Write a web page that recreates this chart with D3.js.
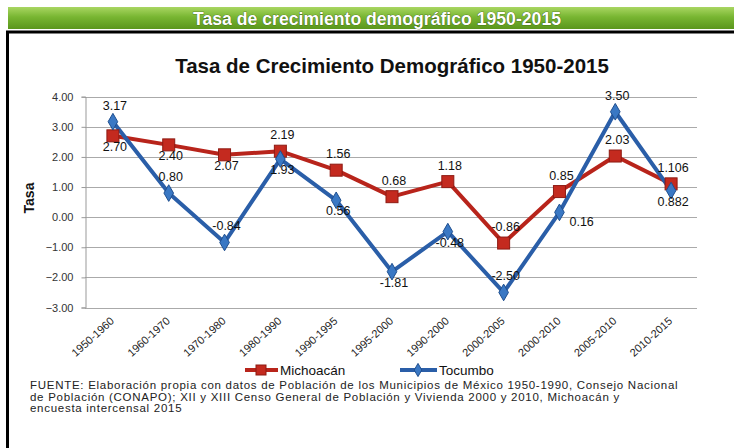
<!DOCTYPE html>
<html>
<head>
<meta charset="utf-8">
<script src="https://cdn.jsdelivr.net/npm/d3@7"></script>
<style>
  body { margin: 0; background: #fff; }
  svg { display: block; font-family: "Liberation Sans", Arial, sans-serif; }
</style>
</head>
<body>
<div id="chart"></div>
<script>
// Data
var periods = ["1950-1960", "1960-1970", "1970-1980", "1980-1990", "1990-1995", "1995-2000",
               "1990-2000", "2000-2005", "2000-2010", "2005-2010", "2010-2015"];
var michoacan = [2.70, 2.40, 2.07, 2.19, 1.56, 0.68, 1.18, -0.86, 0.85, 2.03, 1.106];
var tocumbo = [3.17, 0.80, -0.84, 1.93, 0.56, -1.81, -0.48, -2.50, 0.16, 3.50, 0.882];
var michoacanLabels = ["2.70", "2.40", "2.07", "2.19", "1.56", "0.68", "1.18", "-0.86", "0.85", "2.03", "1.106"];
var tocumboLabels = ["3.17", "0.80", "-0.84", "1.93", "0.56", "-1.81", "-0.48", "-2.50", "0.16", "3.50", "0.882"];
// where each data label sits relative to its point
var michoacanPlace = ["below", "below", "below", "above", "above", "above", "above", "above", "above", "above", "above"];
var tocumboPlace = ["above", "above", "above", "below", "below", "below", "below", "above", "right", "above", "below"];
var yTicks = [-3, -2, -1, 0, 1, 2, 3, 4];

var width = 734, height = 448;
var svg = d3.select("#chart").append("svg")
    .attr("width", width)
    .attr("height", height);

var defs = svg.append("defs");
var grad = defs.append("linearGradient")
    .attr("id", "banner").attr("x1", 0).attr("y1", 0).attr("x2", 0).attr("y2", 1);
grad.append("stop").attr("offset", "0%").attr("stop-color", "#a9d662");
grad.append("stop").attr("offset", "45%").attr("stop-color", "#78b632");
grad.append("stop").attr("offset", "100%").attr("stop-color", "#5a961c");

// green banner on top
svg.append("rect")
    .attr("x", 8).attr("y", 7)
    .attr("width", width - 8).attr("height", 22)
    .attr("fill", "url(#banner)");

svg.append("text")
    .attr("x", 377).attr("y", 25)
    .attr("text-anchor", "middle")
    .attr("font-family", "'Liberation Sans Narrow', 'Liberation Sans', sans-serif")
    .attr("font-weight", "bold")
    .attr("font-size", 18)
    .attr("fill", "#fff")
    .attr("stroke", "#2d4a10")
    .attr("stroke-width", 0.6)
    .attr("paint-order", "stroke")
    .attr("textLength", 368)
    .attr("lengthAdjust", "spacingAndGlyphs")
    .text("Tasa de crecimiento demográfico 1950-2015");

// black frame
svg.append("line")
    .attr("x1", 6).attr("x2", width).attr("y1", 32).attr("y2", 32)
    .attr("stroke", "#000").attr("stroke-width", 3);
svg.append("line")
    .attr("x1", 7.5).attr("x2", 7.5).attr("y1", 31).attr("y2", height)
    .attr("stroke", "#000").attr("stroke-width", 3);

// chart title
svg.append("text")
    .attr("x", 392).attr("y", 73)
    .attr("text-anchor", "middle")
    .attr("font-weight", "bold")
    .attr("font-size", 20.5)
    .attr("fill", "#111")
    .text("Tasa de Crecimiento Demográfico 1950-2015");

// Scales
var x = d3.scaleBand()
    .domain(periods)
    .range([85, 699]);

var y = d3.scaleLinear()
    .domain([-3, 4])
    .range([307.5, 96.7]);

function cx(i) { return x(periods[i]) + x.bandwidth() / 2; }

// grid lines
svg.append("g")
    .selectAll("line")
    .data(yTicks)
    .enter().append("line")
    .attr("x1", 85).attr("x2", 697)
    .attr("y1", function(d) { return Math.round(y(d)) + 0.5; })
    .attr("y2", function(d) { return Math.round(y(d)) + 0.5; })
    .attr("stroke", "#aaa")
    .attr("stroke-width", 1);

// Y axis
var yAxis = svg.append("g")
    .attr("transform", "translate(85.5,0)")
    .call(d3.axisLeft(y).tickValues(yTicks).tickFormat(d3.format(".2f")).tickSize(4).tickPadding(8));
yAxis.select(".domain").attr("stroke", "#999");
yAxis.selectAll(".tick line").attr("stroke", "#999");
yAxis.selectAll(".tick text")
    .attr("font-size", 11)
    .attr("font-family", "'Liberation Sans', Arial, sans-serif")
    .attr("fill", "#333");

svg.append("text")
    .attr("transform", "translate(34,198) rotate(-90)")
    .attr("text-anchor", "middle")
    .attr("font-weight", "bold")
    .attr("font-size", 14)
    .attr("fill", "#111")
    .text("Tasa");

// X labels
svg.append("g")
    .selectAll("text")
    .data(periods)
    .enter().append("text")
    .attr("transform", function(d, i) { return "translate(" + (cx(i) + 2) + ",322) rotate(-42)"; })
    .attr("text-anchor", "end")
    .attr("font-size", 11)
    .attr("fill", "#222")
    .text(function(d) { return d; });

// Lines
var line = d3.line()
    .x(function(d, i) { return cx(i); })
    .y(function(d) { return y(d); });

svg.append("path")
    .datum(michoacan)
    .attr("fill", "none")
    .attr("stroke", "#b8241b")
    .attr("stroke-width", 4)
    .attr("stroke-linejoin", "round")
    .attr("d", line);

svg.append("path")
    .datum(tocumbo)
    .attr("fill", "none")
    .attr("stroke", "#2a5ea8")
    .attr("stroke-width", 4)
    .attr("stroke-linejoin", "round")
    .attr("d", line);

// markers
svg.append("g")
    .selectAll("rect")
    .data(michoacan)
    .enter().append("rect")
    .attr("x", function(d, i) { return cx(i) - 6; })
    .attr("y", function(d) { return y(d) - 6; })
    .attr("width", 12).attr("height", 12)
    .attr("fill", "#c42a1f")
    .attr("stroke", "#8e1a12")
    .attr("stroke-width", 1);

var diamond = d3.symbol().type(d3.symbolDiamond).size(80);
svg.append("g")
    .selectAll("path")
    .data(tocumbo)
    .enter().append("path")
    .attr("transform", function(d, i) { return "translate(" + cx(i) + "," + y(d) + ")"; })
    .attr("d", diamond)
    .attr("fill", "#3a78c4")
    .attr("stroke", "#1f4f8f")
    .attr("stroke-width", 1);

// data labels
function placeLabels(values, labels, place) {
    svg.append("g")
        .selectAll("text")
        .data(values)
        .enter().append("text")
        .attr("x", function(d, i) { return place[i] === "right" ? cx(i) + 10 : cx(i) + 2; })
        .attr("y", function(d, i) {
            if (place[i] === "above") return y(d) - 12;
            if (place[i] === "below") return y(d) + 15;
            return y(d) + 14;
        })
        .attr("text-anchor", function(d, i) { return place[i] === "right" ? "start" : "middle"; })
        .attr("font-size", 12.5)
        .attr("fill", "#111")
        .text(function(d, i) { return labels[i]; });
}
placeLabels(michoacan, michoacanLabels, michoacanPlace);
placeLabels(tocumbo, tocumboLabels, tocumboPlace);

// Legend
var legend = svg.append("g").attr("transform", "translate(0,370)");
legend.append("line").attr("x1", 245).attr("x2", 278).attr("y1", 0).attr("y2", 0)
    .attr("stroke", "#b8241b").attr("stroke-width", 4);
legend.append("rect").attr("x", 256).attr("y", -5).attr("width", 10).attr("height", 10)
    .attr("fill", "#c42a1f").attr("stroke", "#8e1a12");
legend.append("text").attr("x", 280).attr("y", 5).attr("font-size", 13.5).attr("fill", "#111").text("Michoacán");

legend.append("line").attr("x1", 400).attr("x2", 437).attr("y1", 0).attr("y2", 0)
    .attr("stroke", "#2a5ea8").attr("stroke-width", 4);
legend.append("path").attr("transform", "translate(418,0)").attr("d", d3.symbol().type(d3.symbolDiamond).size(50))
    .attr("fill", "#3a78c4").attr("stroke", "#1f4f8f");
legend.append("text").attr("x", 439).attr("y", 5).attr("font-size", 13.5).attr("fill", "#111").text("Tocumbo");

// Source note
var notes = [
    "FUENTE: Elaboración propia con datos de Población de los Municipios de México 1950-1990, Consejo Nacional",
    "de Población (CONAPO); XII y XIII Censo General de Población y Vivienda 2000 y 2010, Michoacán y",
    "encuesta intercensal 2015"
];
svg.append("g")
    .selectAll("text")
    .data(notes)
    .enter().append("text")
    .attr("x", 30)
    .attr("y", function(d, i) { return 389 + i * 11.5; })
    .attr("font-size", 11.5)
    .attr("letter-spacing", 0.72)
    .attr("fill", "#222")
    .text(function(d) { return d; });
</script>
</body>
</html>
